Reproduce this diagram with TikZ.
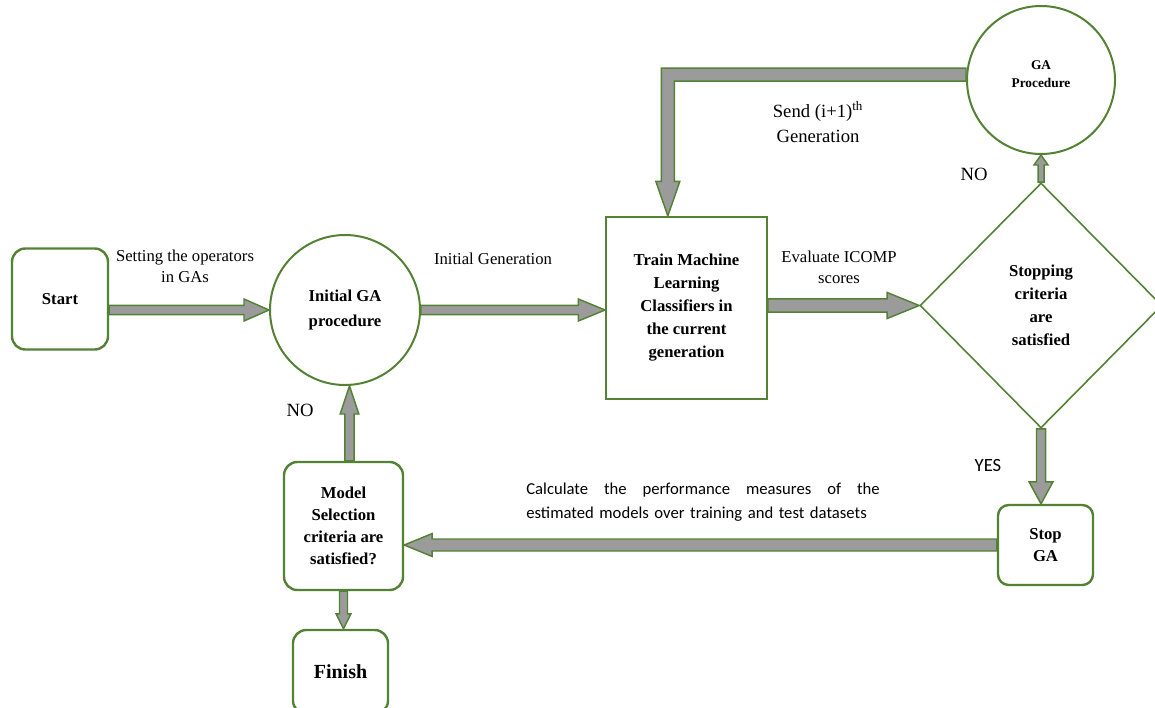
\documentclass[tikz,border=0pt]{standalone}
\usepackage{fontspec}
\setmainfont{Liberation Serif}
\newfontfamily\calibri{Carlito}
\usetikzlibrary{shapes.geometric,calc}
\definecolor{agreen}{RGB}{84,130,53}
\definecolor{agray}{RGB}{155,155,155}
\tikzset{
  rbox/.style={draw=agreen, line width=1.8pt, rounded corners=10pt, align=center,
    font=\bfseries\fontsize{12.5}{16.5}\selectfont},
  sbox/.style={draw=agreen, line width=1.5pt, align=center,
    font=\bfseries\fontsize{12.5}{17.25}\selectfont},
  circ/.style={circle, draw=agreen, line width=1.5pt, align=center, inner sep=0pt,
    font=\bfseries\fontsize{12.5}{18.75}\selectfont},
  dia/.style={diamond, aspect=1, draw=agreen, line width=1.2pt, align=center, inner sep=0pt,
    font=\bfseries\fontsize{12.5}{17.25}\selectfont},
  lbl/.style={align=center, inner sep=1pt, font=\fontsize{12.5}{16}\selectfont},
  garrow/.style={draw=agreen, fill=agray, line width=1.1pt, line join=miter}
}
% block arrow: from, to, shaft half width, head half width, head length
\newcommand{\blockarrow}[5]{%
  \draw[garrow] let \p1=(#1), \p2=(#2), \n1={veclen(\x2-\x1,\y2-\y1)},
    \n2={atan2(\y2-\y1,\x2-\x1)} in [shift={(\p1)}, rotate=\n2]
    (0pt,-#3) -- (\n1-#5,-#3) -- (\n1-#5,-#4) -- (\n1,0pt) -- (\n1-#5,#4)
    -- (\n1-#5,#3) -- (0pt,#3) -- cycle;}
\begin{document}
\begin{tikzpicture}[x=0.75pt, y=-0.75pt]
  \clip (0,0) rectangle (1155,707);
  \node[rbox, minimum width=72pt, minimum height=75.75pt] (start) at (60,299) {Start};
  \node[circ, minimum size=112.5pt] (init) at (345,310) {Initial GA\\procedure};
  \node[sbox, minimum width=120.75pt, minimum height=136.5pt] (train) at (686.5,308)
    {Train Machine\\Learning\\Classifiers in\\the current\\generation};
  \node[dia, minimum width=181.5pt, minimum height=183.75pt] (crit) at (1041,305.5)
    {Stopping\\criteria\\are\\satisfied};
  \node[circ, minimum size=111pt, text depth=9pt, font=\bfseries\fontsize{10}{14}\selectfont] (gaproc) at (1041,80)
    {GA\\Procedure};
  \node[rbox, minimum width=71.25pt, minimum height=60pt, rounded corners=8pt] (stopga) at (1045.5,545) {Stop\\GA};
  \node[rbox, minimum width=89.25pt, minimum height=96pt] (model) at (343.5,526)
    {Model\\Selection\\criteria are\\satisfied?};
  \node[rbox, minimum width=71.25pt, minimum height=63pt, font=\bfseries\fontsize{15}{18}\selectfont]
    (finish) at (340.5,672) {Finish};

  \blockarrow{start.east |- init.west}{init.west}{3.4pt}{8.25pt}{18.75pt}
  \blockarrow{init.east}{init.east -| train.west}{3.4pt}{8.25pt}{20pt}
  \blockarrow{train.east |- crit.west}{crit.west}{4.9pt}{9.75pt}{24pt}
  \blockarrow{crit.north}{crit.north |- gaproc.south}{2.25pt}{5.25pt}{7.5pt}
  \blockarrow{crit.south}{crit.south |- stopga.north}{3.4pt}{9pt}{16.5pt}
  \blockarrow{stopga.west}{stopga.west -| model.east}{4.5pt}{8.6pt}{21pt}
  \blockarrow{[xshift=4.5pt]model.north}{[xshift=4.5pt]model.north |- init.south}{3.4pt}{7pt}{21pt}
  \blockarrow{model.south}{model.south |- finish.north}{3pt}{5.6pt}{11.25pt}
  % feedback from GA procedure to the training box
  \draw[garrow] let \p1=([yshift=4pt]gaproc.west), \p2=([xshift=-14pt]train.north) in
    (\x1,\y1+4.9pt) -- (\x2-4.9pt,\y1+4.9pt) -- (\x2-4.9pt,\y2+26pt) -- (\x2-9pt,\y2+26pt)
    -- (\x2,\y2) -- (\x2+9pt,\y2+26pt) -- (\x2+4.9pt,\y2+26pt) -- (\x2+4.9pt,\y1-4.9pt)
    -- (\x1,\y1-4.9pt) -- cycle;

  \node[lbl] (setlbl) at (185,266) {Setting the operators\\in GAs};
  \node[lbl] (genlbl) at (493,259) {Initial Generation};
  \node[lbl] (evallbl) at (839,267) {Evaluate ICOMP\\scores};
  \node[lbl, font=\fontsize{14}{18.75}\selectfont] (sendlbl) at (818,122)
    {Send (i+1)\textsuperscript{th}\\Generation};
  \node[lbl, font=\fontsize{14}{16}\selectfont] (nocrit) at (974,174) {NO};
  \node[lbl, font=\fontsize{14}{16}\selectfont] (nomodel) at (300,410) {NO};
  \node[lbl, font=\calibri\fontsize{14}{16}\selectfont] (yes) at (988,465) {YES};
  \node[inner sep=0pt, text width=265pt, font=\calibri\fontsize{12.5}{18}\selectfont] (calclbl) at (703,502)
    {\hbox to 265pt{Calculate\hfill the\hfill performance\hfill measures\hfill of\hfill the}\\
     estimated models over training and test datasets};
\end{tikzpicture}
\end{document}
